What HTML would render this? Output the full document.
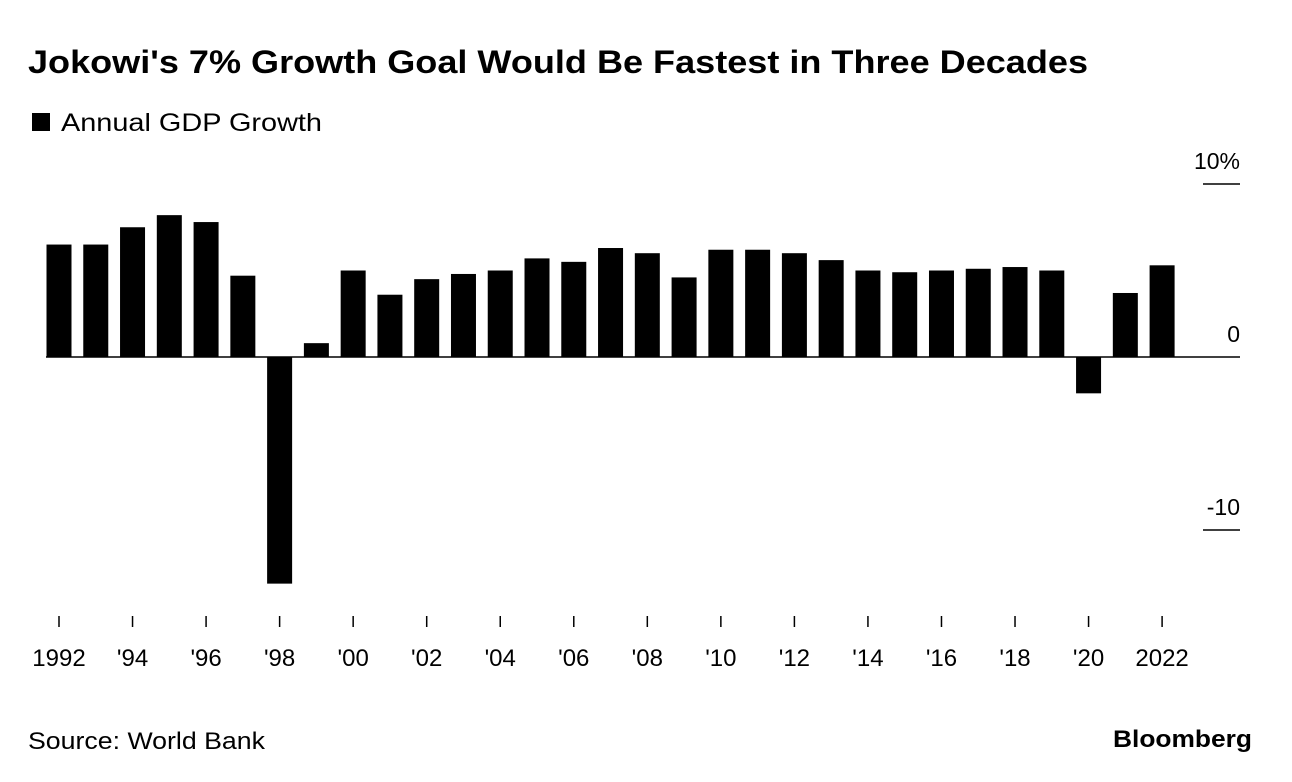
<!DOCTYPE html>
<html><head><meta charset="utf-8">
<style>
body{margin:0;background:#fff;font-family:"Liberation Sans",sans-serif;}
#wrap{position:relative;width:1292px;height:782px;overflow:hidden;}
</style></head>
<body>
<div id="wrap">
<svg id="chart" width="1292" height="782">
<text x="28" y="73" font-size="32" font-weight="bold" fill="#000" textLength="1060" lengthAdjust="spacingAndGlyphs">Jokowi's 7% Growth Goal Would Be Fastest in Three Decades</text>
<rect x="32" y="113" width="18" height="18" fill="#000"/>
<text x="61" y="131" font-size="25" fill="#000" textLength="261" lengthAdjust="spacingAndGlyphs">Annual GDP Growth</text>
<text x="28" y="749" font-size="24" fill="#000" textLength="237" lengthAdjust="spacingAndGlyphs">Source: World Bank</text>
<text x="1113" y="747" font-size="24" font-weight="bold" fill="#000" textLength="139" lengthAdjust="spacingAndGlyphs">Bloomberg</text>
<g id="bars"></g>
<g id="axes"></g>
</svg>
</div>
<script>
const years=[1992,1993,1994,1995,1996,1997,1998,1999,2000,2001,2002,2003,2004,2005,2006,2007,2008,2009,2010,2011,2012,2013,2014,2015,2016,2017,2018,2019,2020,2021,2022];
const growth=[6.5,6.5,7.5,8.2,7.8,4.7,-13.1,0.8,5.0,3.6,4.5,4.8,5.0,5.7,5.5,6.3,6.0,4.6,6.2,6.2,6.0,5.6,5.0,4.9,5.0,5.1,5.2,5.0,-2.1,3.7,5.3];
const yTicks=[10,0,-10];
const yTickLabels=["10%","0","-10"];
const xLabelYears=[1992,1994,1996,1998,2000,2002,2004,2006,2008,2010,2012,2014,2016,2018,2020,2022];
const xLabels=["1992","'94","'96","'98","'00","'02","'04","'06","'08","'10","'12","'14","'16","'18","'20","2022"];

const NS="http://www.w3.org/2000/svg";
const x=yr=>59+(yr-1992)*36.77;
const y=v=>357-v*17.3;
const bw=25;
const bars=document.getElementById('bars');
const axes=document.getElementById('axes');
function mk(tag,attrs,parent){const e=document.createElementNS(NS,tag);for(const k in attrs)e.setAttribute(k,attrs[k]);parent.appendChild(e);return e;}
growth.forEach((v,i)=>{
  const r=mk('rect',{x:x(years[i])-bw/2,y:Math.min(y(v),y(0)),width:bw,height:Math.abs(y(v)-y(0)),fill:'#000'},bars);
  
  
});
yTicks.forEach((t,i)=>{
  if(t===0){
    const l=mk('line',{x1:46,x2:1240,y1:y(0),y2:y(0),stroke:'#000','stroke-width':1.5},axes);
    
    
  } else {
    const l=mk('line',{x1:1203,x2:1240,y1:y(t),y2:y(t),stroke:'#000','stroke-width':1.5},axes);
    
    
  }
  const tx=mk('text',{x:1240,y:y(t)-15,'font-size':23,'text-anchor':'end',fill:'#000'},axes);
  tx.textContent=yTickLabels[i];
  
  
});
xLabelYears.forEach((yr,i)=>{
  const l=mk('line',{x1:x(yr),x2:x(yr),y1:616,y2:627,stroke:'#000','stroke-width':1.5},axes);
  
  
  const t=mk('text',{x:x(yr),y:666,'font-size':24,'text-anchor':'middle',fill:'#000'},axes);
  t.textContent=xLabels[i];
  
  
});
</script>
</body></html>
